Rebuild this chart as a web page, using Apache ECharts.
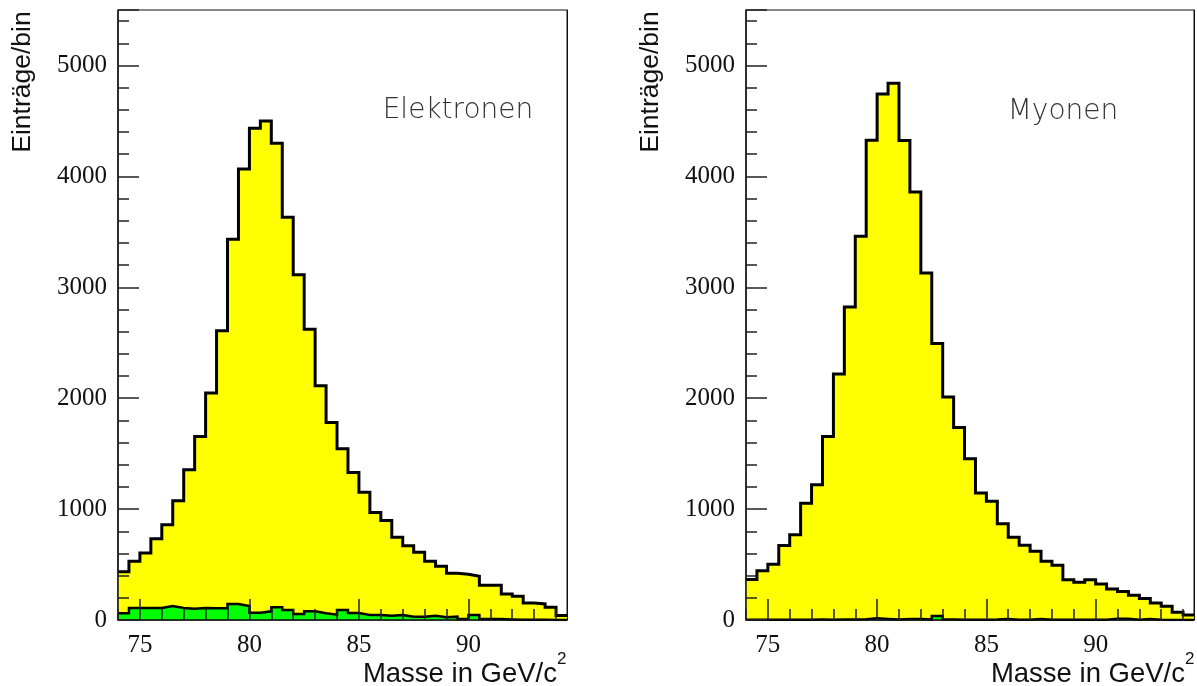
<!DOCTYPE html>
<html>
<head>
<meta charset="utf-8">
<script src="https://cdn.jsdelivr.net/npm/echarts@6/dist/echarts.min.js"></script>
<style>
  html, body { margin: 0; padding: 0; background: #fff; }
  #chart { width: 1197px; height: 686px; }
</style>
</head>
<body>
<div id="chart"></div>
<script>
// bin edges in GeV/c^2 (41 bins of 0.5)
var binEdges = [74, 74.5, 75, 75.5, 76, 76.5, 77, 77.5, 78, 78.5, 79, 79.5, 80, 80.5, 81, 81.5,
  82, 82.5, 83, 83.5, 84, 84.5, 85, 85.5, 86, 86.5, 87, 87.5, 88, 88.5, 89, 89.5,
  90, 90.5, 91, 91.5, 92, 92.5, 93, 93.5, 94, 94.5];

// Elektronen: total and background (green)
var elecTotal = [435, 529, 604, 733, 859, 1076, 1355, 1655, 2046, 2607, 3433, 4067, 4433, 4499,
  4298, 3631, 3112, 2622, 2112, 1781, 1544, 1331, 1151, 970, 898, 745, 670, 610, 529, 484,
  421, 412, 394, 313, 313, 235, 214, 154, 145, 115, 40];
var elecBkg = [60, 108, 108, 108, 126, 108, 102, 108, 105, 105, 144, 126, 66, 78, 114, 90, 54,
  78, 60, 48, 90, 63, 45, 45, 39, 45, 30, 30, 39, 24, 30, 9, 45, 9, 9, 5, 3, 2, 2, 1, 0];

// Myonen: total and background (green)
var muonTotal = [365, 445, 503, 671, 768, 1052, 1219, 1655, 2219, 2823, 3461, 4326, 4742, 4839,
  4323, 3858, 3129, 2494, 2010, 1735, 1455, 1145, 1070, 868, 745, 673, 619, 529, 493, 364,
  340, 364, 325, 280, 256, 223, 193, 154, 124, 69, 46];
var muonBkg = [2, 2, 3, 2, 3, 3, 4, 3, 4, 5, 6, 15, 10, 5, 8, 8, 5, 35, 4, 3, 3, 3, 4, 10, 3,
  3, 10, 3, 2, 2, 2, 2, 3, 12, 12, 2, 10, 2, 1, 1, 0];

var xMinorTicks = [74, 75, 76, 77, 78, 79, 80, 81, 82, 83, 84, 85, 86, 87, 88, 89, 90, 91, 92, 93, 94];
var xMajorTicks = [75, 80, 85, 90];

var panelTitles = ['Elektronen', 'Myonen'];

function stepData(vals) {
  // point at every left edge, plus closing point at the last edge
  return binEdges.map(function (x, i) {
    return [x, vals[Math.min(i, vals.length - 1)]];
  });
}

var grids = [
  { left: 118, top: 10, width: 449, height: 610 },
  { left: 746, top: 10, width: 448, height: 610 }
];

var xAxes = [], yAxes = [], series = [];
var tickColor = '#222';
var panels = [[elecTotal, elecBkg], [muonTotal, muonBkg]];

grids.forEach(function (g, gi) {
  g.show = true;
  g.borderColor = '#111';
  g.borderWidth = 1;
  g.backgroundColor = '#fff';

  xAxes.push({
    gridIndex: gi, type: 'value', min: 74, max: 94.5, position: 'bottom', z: 10,
    axisLine: { show: true, onZero: false, lineStyle: { color: '#111', width: 1.5 } },
    axisTick: { show: true, inside: true, length: 11, customValues: xMinorTicks,
      lineStyle: { color: tickColor, width: 1.5 } },
    axisLabel: { show: true, customValues: xMajorTicks, margin: 13,
      fontFamily: 'Liberation Serif', fontSize: 25, color: '#111' },
    splitLine: { show: false }
  });
  xAxes.push({
    gridIndex: gi, type: 'value', min: 74, max: 94.5, position: 'bottom', z: 10,
    axisLine: { show: false, onZero: false },
    axisTick: { show: true, inside: true, length: 21, customValues: xMajorTicks,
      lineStyle: { color: tickColor, width: 1.5 } },
    axisLabel: { show: false },
    splitLine: { show: false }
  });

  yAxes.push({
    gridIndex: gi, type: 'value', min: 0, max: 5500, interval: 1000, position: 'left', z: 10,
    axisLine: { show: true, lineStyle: { color: '#111', width: 1.5 } },
    axisTick: { show: true, inside: true, length: 21, lineStyle: { color: tickColor, width: 1.5 } },
    minorTick: { show: true, splitNumber: 5, length: 11, lineStyle: { color: tickColor, width: 1.5 } },
    axisLabel: { show: true, showMaxLabel: false, margin: 11,
      formatter: function (v) { return String(v); },
      fontFamily: 'Liberation Serif', fontSize: 25, color: '#111' },
    splitLine: { show: false }
  });
  yAxes.push({
    gridIndex: gi, type: 'value', min: 0, max: 5500, position: 'right', z: 10,
    axisLine: { show: true, lineStyle: { color: '#111', width: 1 } },
    axisTick: { show: false }, axisLabel: { show: false }, splitLine: { show: false }
  });

  series.push({
    type: 'line', xAxisIndex: gi * 2, yAxisIndex: gi * 2, step: 'end', z: 2,
    showSymbol: false, symbol: 'none', silent: true,
    data: stepData(panels[gi][0]),
    lineStyle: { color: '#000', width: 3, join: 'miter' },
    areaStyle: { color: '#ffff00', opacity: 1 }
  });
  series.push({
    type: 'line', xAxisIndex: gi * 2, yAxisIndex: gi * 2, step: 'end', z: 3,
    showSymbol: false, symbol: 'none', silent: true,
    data: stepData(panels[gi][1]),
    lineStyle: { color: '#000', width: 2.5, join: 'miter' },
    areaStyle: { color: '#00ff00', opacity: 1 }
  });
});

var graphics = [];
[0, 628].forEach(function (dx, gi) {
  graphics.push({
    type: 'text', x: 23 + dx, y: 82, rotation: Math.PI / 2, z: 20,
    style: { text: 'Einträge/bin', fontFamily: 'Liberation Sans', fontSize: 26.5, fill: '#111',
      textAlign: 'center', textVerticalAlign: 'middle' }
  });
  graphics.push({
    type: 'text', x: 557 + dx, y: 674, z: 20,
    style: { text: 'Masse in GeV/c', fontFamily: 'Liberation Sans', fontSize: 27.5, fill: '#111',
      textAlign: 'right', textVerticalAlign: 'middle' }
  });
  graphics.push({
    type: 'text', x: 557 + dx, y: 659, z: 20,
    style: { text: '2', fontFamily: 'Liberation Sans', fontSize: 17, fill: '#111',
      textAlign: 'left', textVerticalAlign: 'middle' }
  });
});
graphics.push({
  type: 'text', x: 458, y: 111, z: 20,
  style: { text: panelTitles[0], fontFamily: 'DejaVu Sans', fontWeight: 200, fontSize: 28,
    fill: '#333', textAlign: 'center', textVerticalAlign: 'middle' }
});
graphics.push({
  type: 'text', x: 1063, y: 112, z: 20,
  style: { text: panelTitles[1], fontFamily: 'DejaVu Sans', fontWeight: 200, fontSize: 28,
    fill: '#333', textAlign: 'center', textVerticalAlign: 'middle' }
});

var myChart = echarts.init(document.getElementById('chart'), null, { renderer: 'canvas' });
myChart.setOption({
  animation: false,
  backgroundColor: '#fff',
  grid: grids,
  xAxis: xAxes,
  yAxis: yAxes,
  series: series,
  graphic: graphics
});
</script>
</body>
</html>
